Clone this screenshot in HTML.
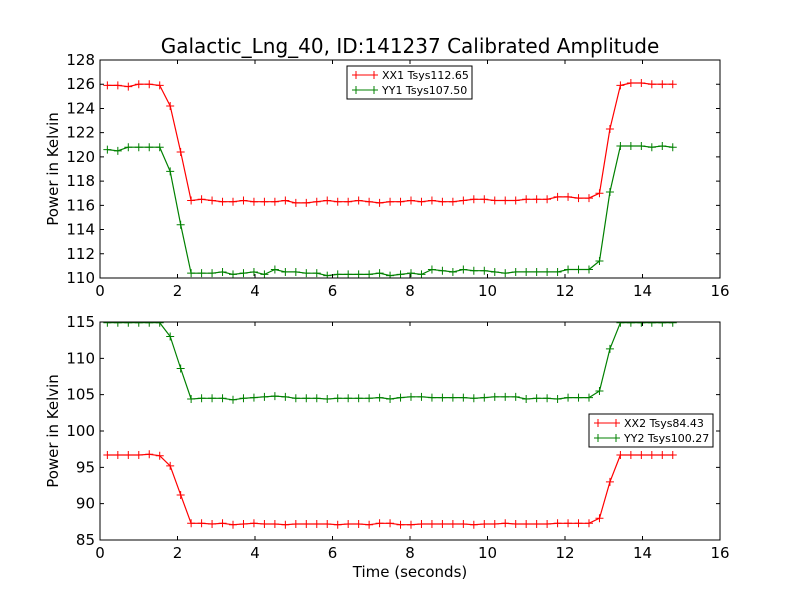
<!DOCTYPE html>
<html><head><meta charset="utf-8"><style>
body{margin:0;background:#fff}
svg text{font-family:"DejaVu Sans","Liberation Sans",sans-serif}
</style></head><body>
<svg id="c" width="800" height="600" xmlns="http://www.w3.org/2000/svg">
<rect width="800" height="600" fill="#fff"/>
<text x="410" y="53" font-size="20" text-anchor="middle">Galactic_Lng_40, ID:141237 Calibrated Amplitude</text>
</svg>
<script>
const xTicks=[0,2,4,6,8,10,12,14,16];
const topYTicks=[110,112,114,116,118,120,122,124,126,128];
const botYTicks=[85,90,95,100,105,110,115];
const xx1=[125.9,125.9,125.8,126.0,126.0,125.9,124.2,120.4,116.4,116.5,116.4,116.3,116.3,116.4,116.3,116.3,116.3,116.4,116.2,116.2,116.3,116.4,116.3,116.3,116.4,116.3,116.2,116.3,116.3,116.4,116.3,116.4,116.3,116.3,116.4,116.5,116.5,116.4,116.4,116.4,116.5,116.5,116.5,116.7,116.7,116.6,116.6,117.0,122.3,125.9,126.1,126.1,126.0,126.0,126.0];
const yy1=[120.6,120.5,120.8,120.8,120.8,120.8,118.8,114.4,110.4,110.4,110.4,110.5,110.3,110.4,110.5,110.3,110.7,110.5,110.5,110.4,110.4,110.2,110.3,110.3,110.3,110.3,110.4,110.2,110.3,110.4,110.3,110.7,110.6,110.5,110.7,110.6,110.6,110.5,110.4,110.5,110.5,110.5,110.5,110.5,110.7,110.7,110.7,111.4,117.1,120.9,120.9,120.9,120.8,120.9,120.8];
const xx2=[96.7,96.7,96.7,96.7,96.8,96.6,95.2,91.2,87.3,87.3,87.2,87.3,87.1,87.2,87.3,87.2,87.2,87.1,87.2,87.2,87.2,87.2,87.1,87.2,87.2,87.1,87.3,87.3,87.1,87.1,87.2,87.2,87.2,87.2,87.2,87.1,87.2,87.2,87.3,87.2,87.2,87.2,87.2,87.3,87.3,87.3,87.3,88.0,93.0,96.7,96.7,96.7,96.7,96.7,96.7];
const yy2=[114.9,114.9,114.9,114.9,114.9,114.9,113.0,108.6,104.4,104.5,104.5,104.5,104.3,104.5,104.6,104.7,104.8,104.7,104.5,104.5,104.5,104.4,104.5,104.5,104.5,104.5,104.6,104.4,104.6,104.7,104.7,104.6,104.6,104.6,104.6,104.5,104.6,104.7,104.7,104.7,104.4,104.5,104.5,104.4,104.6,104.6,104.6,105.5,111.3,114.9,114.9,114.9,114.9,114.9,114.9];
const t0=0.19, dt=0.2702;
const NS="http://www.w3.org/2000/svg";
const svg=document.getElementById('c');
function mk(tag,attrs,parent){const e=document.createElementNS(NS,tag);for(const k in attrs)e.setAttribute(k,attrs[k]);(parent||svg).appendChild(e);return e;}
function panel(name,top,bot,ymin,ymax,yticks,series,legend,showXTitle){
  const L=100,R=720;
  const sx=v=>L+(v-0)/(16-0)*(R-L);
  const sy=v=>bot-(v-ymin)/(ymax-ymin)*(bot-top);
  const g=mk('g',{});
  
  
  const clipId=name+'-clip';
  const cp=mk('clipPath',{id:clipId},g);mk('rect',{x:L,y:top,width:R-L,height:bot-top},cp);
  series.forEach(s=>{
    const sg=mk('g',{'clip-path':'url(#'+clipId+')'},g);
    
    
    const pts=s.vals.map((v,i)=>sx(t0+i*dt).toFixed(1)+','+sy(v).toFixed(1)).join(' ');
    mk('polyline',{points:pts,fill:'none',stroke:s.color,'stroke-width':1.2},sg);
    let d='';s.vals.forEach((v,i)=>{const x=sx(t0+i*dt),y=sy(v);d+=`M${x-4},${y}h8M${x},${y-4}v8`;});
    mk('path',{d:d,stroke:s.color,'stroke-width':1},sg);
  });
  mk('rect',{x:L,y:top,width:R-L,height:bot-top,fill:'none',stroke:'#000','stroke-width':1},g);
  xTicks.forEach(v=>{const x=sx(v);
    mk('path',{d:`M${x},${bot}v-4M${x},${top}v4`,stroke:'#000'},g);
    const t=mk('text',{x:x,y:bot+18,'font-size':15,'text-anchor':'middle'},g);t.textContent=v;
    
    });
  yticks.forEach(v=>{const y=sy(v);
    mk('path',{d:`M${L},${y}h4M${R},${y}h-4`,stroke:'#000'},g);
    const t=mk('text',{x:L-5,y:y+5,'font-size':15,'text-anchor':'end'},g);t.textContent=v;
    
    });
  const yl=mk('text',{x:0,y:0,'font-size':15,'text-anchor':'middle',transform:`translate(58,${(top+bot)/2}) rotate(-90)`},g);
  yl.textContent='Power in Kelvin';
  
  
  if(showXTitle){const xl=mk('text',{x:(L+R)/2,y:577,'font-size':15,'text-anchor':'middle'},g);xl.textContent='Time (seconds)';
    
    }
  const lg=mk('g',{},g);
  
  
  mk('rect',{x:legend.x,y:legend.y,width:legend.w,height:33,fill:'#fff',stroke:'#000','stroke-width':1},lg);
  series.forEach((s,i)=>{const y=legend.y+9+i*15,x=legend.x+5;
    mk('path',{d:`M${x},${y}h26M${x+4},${y-4}v8M${x+22},${y-4}v8`,stroke:s.color,'stroke-width':1},lg);
    const t=mk('text',{x:x+30,y:y+4,'font-size':11},lg);t.textContent=s.label;
    
    });
}
panel('top-panel',60,278,110,128,topYTicks,[{name:'xx1-line',vals:xx1,color:'#ff0000',label:'XX1 Tsys112.65'},{name:'yy1-line',vals:yy1,color:'#008000',label:'YY1 Tsys107.50'}],{x:347,y:66,w:125},false);
panel('bottom-panel',322,540,85,115,botYTicks,[{name:'xx2-line',vals:xx2,color:'#ff0000',label:'XX2 Tsys84.43'},{name:'yy2-line',vals:yy2,color:'#008000',label:'YY2 Tsys100.27'}],{x:589,y:414,w:124},true);
</script>
</body></html>
